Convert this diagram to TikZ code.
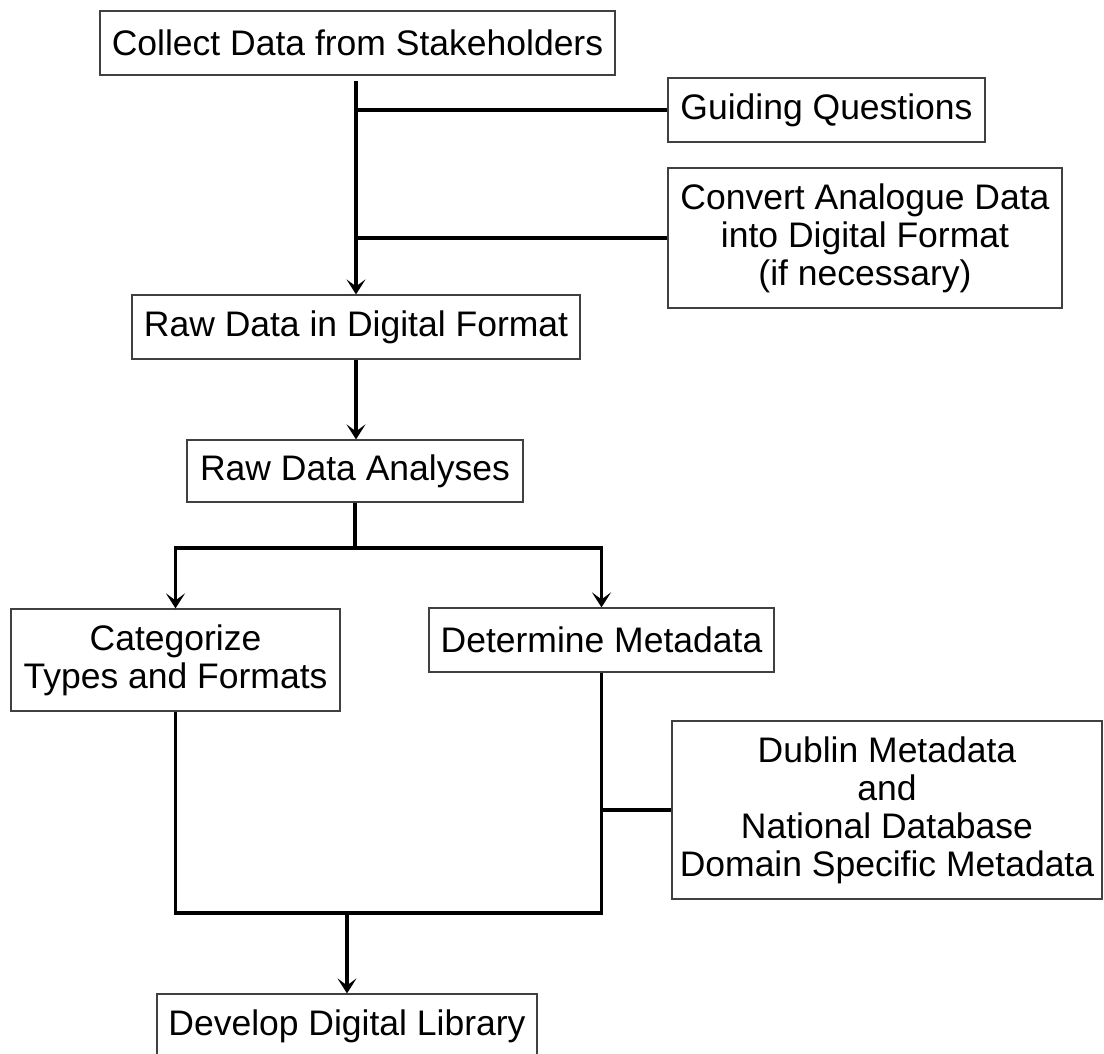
\documentclass[tikz,border=0pt]{standalone}
\usepackage{fontspec}
\setmainfont{Liberation Sans}
\usetikzlibrary{arrows.meta}
\begin{document}
\begin{tikzpicture}[x=1pt,y=-1pt,
  box/.style={draw=black!75, line width=1.2pt, fill=white, inner sep=0pt,
    align=center, font=\fontsize{35.5}{38}\selectfont},
  link/.style={line width=3.4pt, draw=black},
  flow/.style={link, -{Stealth[length=15pt,width=19pt,inset=7pt]}}]
\useasboundingbox (0,0) rectangle (1104,1054);

% process steps
\node[box, minimum width=515pt, minimum height=64pt] (collect) at (357.5,43) {Collect Data from Stakeholders};
\node[box, minimum width=317pt, minimum height=64pt] (guiding) at (826.5,110) {Guiding Questions};
\node[box, minimum width=394pt, minimum height=140pt] (convert) at (865,238) {Convert Analogue Data\\into Digital Format\\(if necessary)};
\node[box, minimum width=448pt, minimum height=64pt] (rawdig) at (356,327) {Raw Data in Digital Format};
\node[box, minimum width=336pt, minimum height=62pt] (rda) at (355,471) {Raw Data Analyses};
\node[box, minimum width=329pt, minimum height=102pt] (categ) at (175.5,660) {Categorize\\Types and Formats};
\node[box, minimum width=345pt, minimum height=64pt] (determ) at (601.5,640) {Determine Metadata};
\node[box, minimum width=430pt, minimum height=178pt] (dublin) at (887,810) {Dublin Metadata\\and\\National Database\\Domain Specific Metadata};
\node[box, minimum width=380pt, minimum height=64pt] (develop) at (347,1026) {Develop Digital Library};

% junction points
\coordinate (split) at (355,548);
\coordinate (merge) at (347,913);

% collection phase
\draw[flow, shorten <=5pt] (collect.south -| rawdig.north) -- (rawdig.north);
\draw[link] (rawdig.north |- guiding.west) -- (guiding.west);
\draw[link] (rawdig.north |- convert.west) -- (convert.west);
\draw[flow] (rawdig.south) -- (rawdig.south |- rda.north);

% analysis branches
\draw[link] (rda.south) -- (split);
\draw[flow] (split) -| (categ.north);
\draw[flow] (split) -| (determ.north);

% metadata standards
\draw[link] (determ.south |- dublin.west) -- (dublin.west);

% merge into the library
\draw[link] (categ.south) |- (merge);
\draw[link] (determ.south) |- (merge);
\draw[flow] (merge) -- (develop.north);
\end{tikzpicture}
\end{document}
